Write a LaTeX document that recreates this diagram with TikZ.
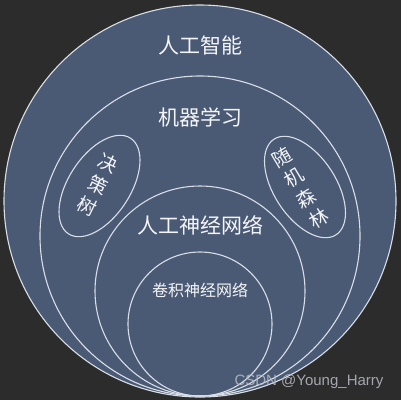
\documentclass[tikz,border=0pt]{standalone}
\usepackage{fontspec}
\newfontfamily\cjk{Noto Sans CJK SC}
\newfontfamily\wmfont{Liberation Sans}
\usetikzlibrary{shapes.geometric}
\definecolor{bgdark}{HTML}{2C2C2C}
\definecolor{disc}{HTML}{4A5A75}
\definecolor{rim}{HTML}{D9DEE6}
\definecolor{wmgrey}{HTML}{B8BCC4}

\begin{document}
\begin{tikzpicture}[x=1pt, y=-1pt,
                    ring/.style={circle, draw=rim, line width=1.1pt, inner sep=0pt},
                    oval/.style={ellipse, draw=rim, line width=1.1pt, inner sep=0pt, minimum width=62pt, minimum height=114pt},
                    term/.style={text=white!94!disc, font=\cjk\fontsize{21}{21}\selectfont},
                    leaf/.style={text=white!94!disc, align=center, font=\cjk\fontsize{19}{24}\selectfont}]
    \fill[bgdark] (0,0) rectangle (401,400);
    \useasboundingbox (0,0) rectangle (401,400);
    % nested circles, all touching at the bottom
    \path
        node[ring, fill=disc, minimum size=392pt] (ai) at (200,201) {}
        node[ring, minimum size=320pt] (ml) at (200,236) {}
        node[ring, minimum size=210pt] (nn) at (200,291) {}
        node[ring, minimum size=144pt] (cnn) at (200,324) {};
    \path
        node[oval, rotate=-33] (tree) at (99.5,186) {}
        node[oval, rotate=33] (forest) at (305,187) {};
    % labels
    \path
        node[term] (ailabel) at (200,45) {人工智能}
        node[term] (mllabel) at (200,117) {机器学习}
        node[term] (nnlabel) at (200,225) {人工神经网络}
        node[term, font=\cjk\fontsize{16}{16}\selectfont] (cnnlabel) at (200,290) {卷积神经网络}
        node[leaf, rotate=-26] (treelabel) at (98,185) {决\\策\\树}
        node[leaf, rotate=31] (forestlabel) at (300,188) {随\\机\\森\\林};
    \node[anchor=west, text=wmgrey, opacity=.85, font=\wmfont\fontsize{15}{15}\selectfont] (wm) at (231,382) {CSDN @Young\_Harry};
\end{tikzpicture}
\end{document}
